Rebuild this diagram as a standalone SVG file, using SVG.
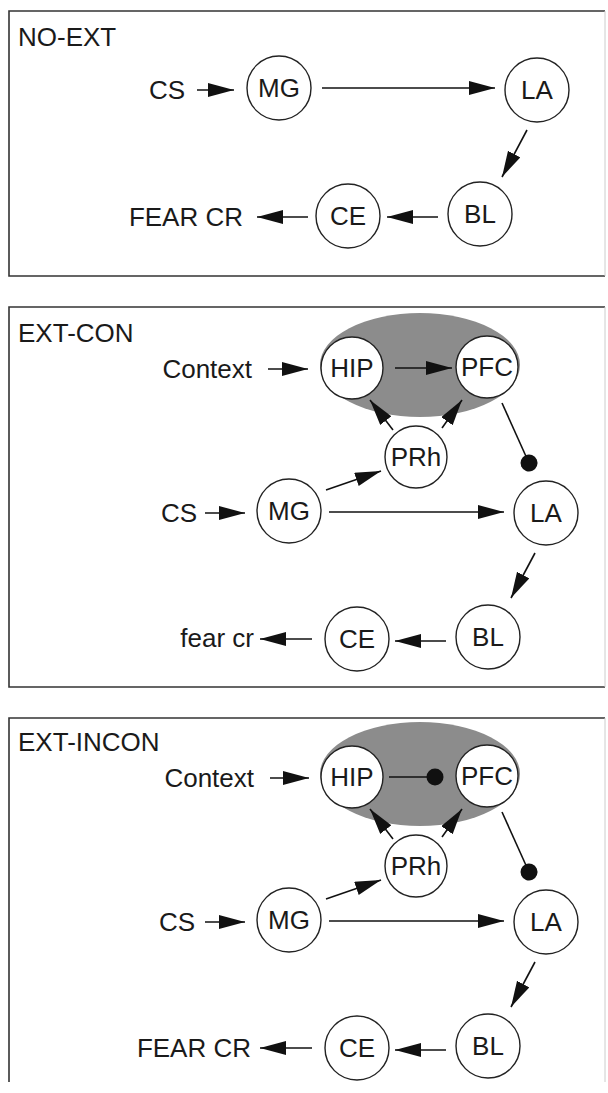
<svg xmlns="http://www.w3.org/2000/svg" width="608" height="1093" viewBox="0 0 608 1093">
<style>
.frame{fill:none;stroke:#333;stroke-width:1.6}
.frame2{fill:none;stroke:#ccc;stroke-width:1}
.node{fill:#fff;stroke:#222;stroke-width:1.4}
.t{font-family:"Liberation Sans",Arial,sans-serif;font-size:26px;fill:#1a1a1a}
.lab{font-family:"Liberation Sans",Arial,sans-serif;font-size:26px;fill:#1a1a1a}
.c{text-anchor:middle}
.e{text-anchor:end}
.ar{fill:none;stroke:#111;stroke-width:1.6;marker-end:url(#ah)}
.inh{fill:none;stroke:#111;stroke-width:1.6;marker-end:url(#dot)}
.halo{fill:#8c8c8c}
</style>
<defs>
<marker id="ah" markerUnits="userSpaceOnUse" markerWidth="28" markerHeight="16" refX="26" refY="7" orient="auto">
<path d="M0,0 L26,7 L0,14 z" fill="#111"/>
</marker>
<marker id="dot" markerUnits="userSpaceOnUse" markerWidth="20" markerHeight="20" refX="10" refY="10" orient="auto">
<circle cx="10" cy="10" r="8.5" fill="#111"/>
</marker>
</defs>

<!-- Panel frames -->
<g id="frames">
<path class="frame" d="M605,11 H9 V276 H605"/>
<path class="frame2" d="M605,11 V276"/>
<path class="frame" d="M605,307 H9 V687 H605"/>
<path class="frame2" d="M605,307 V687"/>
<path class="frame" d="M605,718 H9 V1082"/>
<path class="frame2" d="M605,718 V1082"/>
</g>

<!-- Panel 1: NO-EXT -->
<g id="p1-title"><text class="lab" x="18" y="46">NO-EXT</text></g>
<g id="p1-CS"><text class="t" x="149" y="99">CS</text></g>
<g id="p1-MG"><circle class="node" cx="279" cy="88" r="32"/><text class="t c" x="279" y="97">MG</text></g>
<g id="p1-LA"><circle class="node" cx="537" cy="90" r="32"/><text class="t c" x="537" y="99">LA</text></g>
<g id="p1-BL"><circle class="node" cx="480" cy="214" r="32"/><text class="t c" x="480" y="223">BL</text></g>
<g id="p1-CE"><circle class="node" cx="348" cy="216" r="32"/><text class="t c" x="348" y="225">CE</text></g>
<g id="p1-FEAR"><text class="t e" x="243" y="226">FEAR CR</text></g>

<!-- Panel 2: EXT-CON -->
<g id="p2-title"><text class="lab" x="18" y="342">EXT-CON</text></g>
<g id="p2-halo"><ellipse class="halo" cx="420" cy="365" rx="100" ry="52"/></g>
<g id="p2-Context"><text class="t e" x="252" y="378">Context</text></g>
<g id="p2-HIP"><circle class="node" cx="352" cy="368" r="31"/><text class="t c" x="352" y="377">HIP</text></g>
<g id="p2-PFC"><circle class="node" cx="487" cy="367" r="31"/><text class="t c" x="487" y="376">PFC</text></g>
<g id="p2-PRh"><circle class="node" cx="416" cy="457" r="31"/><text class="t c" x="416" y="466">PRh</text></g>
<g id="p2-CS"><text class="t" x="161" y="522">CS</text></g>
<g id="p2-MG"><circle class="node" cx="289" cy="511" r="32"/><text class="t c" x="289" y="520">MG</text></g>
<g id="p2-LA"><circle class="node" cx="546" cy="513" r="32"/><text class="t c" x="546" y="522">LA</text></g>
<g id="p2-BL"><circle class="node" cx="488" cy="637" r="32"/><text class="t c" x="488" y="646">BL</text></g>
<g id="p2-CE"><circle class="node" cx="357" cy="639" r="32"/><text class="t c" x="357" y="648">CE</text></g>
<g id="p2-fear"><text class="t e" x="254" y="647">fear cr</text></g>

<!-- Panel 3: EXT-INCON -->
<g id="p3-title"><text class="lab" x="18" y="751">EXT-INCON</text></g>
<g id="p3-halo"><ellipse class="halo" cx="420" cy="774" rx="100" ry="52"/></g>
<g id="p3-Context"><text class="t e" x="254" y="787">Context</text></g>
<g id="p3-HIP"><circle class="node" cx="352" cy="777" r="31"/><text class="t c" x="352" y="786">HIP</text></g>
<g id="p3-PFC"><circle class="node" cx="487" cy="776" r="31"/><text class="t c" x="487" y="785">PFC</text></g>
<g id="p3-PRh"><circle class="node" cx="416" cy="866" r="31"/><text class="t c" x="416" y="875">PRh</text></g>
<g id="p3-CS"><text class="t" x="159" y="931">CS</text></g>
<g id="p3-MG"><circle class="node" cx="289" cy="920" r="32"/><text class="t c" x="289" y="929">MG</text></g>
<g id="p3-LA"><circle class="node" cx="546" cy="922" r="32"/><text class="t c" x="546" y="931">LA</text></g>
<g id="p3-BL"><circle class="node" cx="488" cy="1046" r="32"/><text class="t c" x="488" y="1055">BL</text></g>
<g id="p3-CE"><circle class="node" cx="357" cy="1048" r="32"/><text class="t c" x="357" y="1057">CE</text></g>
<g id="p3-FEAR"><text class="t e" x="251" y="1057">FEAR CR</text></g>

<!-- Connectors -->
<g id="connectors">
<line class="ar" x1="197" y1="90" x2="234" y2="90"/>
<line class="ar" x1="322" y1="88" x2="495" y2="88"/>
<line class="ar" x1="527" y1="130" x2="502" y2="177"/>
<line class="ar" x1="438" y1="217" x2="387" y2="217"/>
<line class="ar" x1="308" y1="217" x2="257" y2="217"/>

<line class="ar" x1="268" y1="369" x2="308" y2="369"/>
<line class="ar" x1="395" y1="368" x2="452" y2="368"/>
<line class="ar" x1="393" y1="430" x2="370" y2="400"/>
<line class="ar" x1="442" y1="428" x2="462" y2="400"/>
<line class="inh" x1="502" y1="403" x2="529" y2="463"/>
<line class="ar" x1="326" y1="490" x2="381" y2="471"/>
<line class="ar" x1="205" y1="513" x2="245" y2="513"/>
<line class="ar" x1="329" y1="512" x2="504" y2="512"/>
<line class="ar" x1="535" y1="553" x2="511" y2="598"/>
<line class="ar" x1="446" y1="641" x2="395" y2="641"/>
<line class="ar" x1="312" y1="639" x2="260" y2="639"/>

<line class="ar" x1="270" y1="778" x2="309" y2="778"/>
<line class="inh" x1="389" y1="777" x2="435" y2="777"/>
<line class="ar" x1="393" y1="839" x2="370" y2="809"/>
<line class="ar" x1="442" y1="837" x2="462" y2="809"/>
<line class="inh" x1="502" y1="812" x2="529" y2="872"/>
<line class="ar" x1="326" y1="899" x2="381" y2="880"/>
<line class="ar" x1="205" y1="922" x2="245" y2="922"/>
<line class="ar" x1="329" y1="921" x2="504" y2="921"/>
<line class="ar" x1="535" y1="962" x2="511" y2="1007"/>
<line class="ar" x1="446" y1="1050" x2="395" y2="1050"/>
<line class="ar" x1="312" y1="1048" x2="260" y2="1048"/>
</g>
</svg>
